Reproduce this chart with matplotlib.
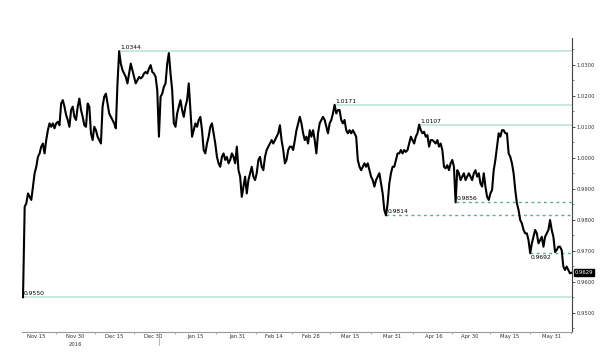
import pandas as pd
import numpy as np
import matplotlib
matplotlib.use("Agg")
import matplotlib.pyplot as plt
import matplotlib.dates as mdates
from matplotlib.ticker import MultipleLocator, FormatStrFormatter, FixedLocator

# USD/CHF, precios (muestreo aprox. cada 0.64 dias)
usdchf = [
    0.9550, 0.9842, 0.9853, 0.9885, 0.9874, 0.9864, 0.9907, 0.9950, 0.9971, 1.0003,
    1.0014, 1.0036, 1.0046, 1.0014, 1.0057, 1.0089, 1.0111, 1.0100, 1.0111, 1.0095,
    1.0111, 1.0116, 1.0105, 1.0175, 1.0186, 1.0165, 1.0138, 1.0122, 1.0100, 1.0154,
    1.0165, 1.0132, 1.0122, 1.0165, 1.0191, 1.0154, 1.0132, 1.0105, 1.0100, 1.0175,
    1.0165, 1.0079, 1.0057, 1.0100, 1.0089, 1.0068, 1.0057, 1.0046, 1.0165, 1.0197,
    1.0207, 1.0175, 1.0143, 1.0132, 1.0122, 1.0111, 1.0095, 1.0240, 1.0344, 1.0304,
    1.0283, 1.0272, 1.0261, 1.0240, 1.0272, 1.0304, 1.0283, 1.0261, 1.0240, 1.0250,
    1.0261, 1.0256, 1.0261, 1.0272, 1.0277, 1.0272, 1.0288, 1.0299, 1.0277, 1.0272,
    # diciembre - febrero
    1.0261, 1.0218, 1.0068, 1.0197, 1.0207, 1.0229, 1.0240, 1.0304, 1.0338, 1.0272,
    1.0218, 1.0111, 1.0100, 1.0143, 1.0165, 1.0186, 1.0154, 1.0132, 1.0165, 1.0186,
    1.0240, 1.0154, 1.0068, 1.0089, 1.0111, 1.0100, 1.0122, 1.0132, 1.0089, 1.0025,
    1.0014, 1.0046, 1.0068, 1.0100, 1.0111, 1.0079, 1.0046, 1.0003, 0.9982, 0.9971,
    1.0003, 1.0014, 0.9993, 1.0003, 0.9982, 0.9993, 1.0014, 1.0003, 0.9982, 1.0036,
    0.9960, 0.9939, 0.9874, 0.9907, 0.9939, 0.9885, 0.9928, 0.9950, 0.9971, 0.9939,
    0.9928, 0.9950, 0.9993, 1.0003, 0.9971, 0.9960, 1.0003, 1.0025, 1.0036, 1.0046,
    1.0057, 1.0046, 1.0057, 1.0068, 1.0079, 1.0105, 1.0057, 1.0025, 0.9982, 0.9993,
    1.0025, 1.0036, 1.0036,
    # febrero - abril
    1.0025, 1.0057, 1.0089, 1.0111, 1.0132, 1.0111, 1.0079, 1.0057, 1.0068, 1.0046,
    1.0089, 1.0068, 1.0089, 1.0057, 1.0014, 1.0079, 1.0111, 1.0122, 1.0132, 1.0122,
    1.0100, 1.0079, 1.0111, 1.0122, 1.0143, 1.0171, 1.0143, 1.0154, 1.0154, 1.0122,
    1.0111, 1.0122, 1.0089, 1.0079, 1.0089, 1.0079, 1.0089, 1.0079, 1.0068, 0.9993,
    0.9971, 0.9960, 0.9971, 0.9982, 0.9971, 0.9982, 0.9960, 0.9939, 0.9928, 0.9907,
    0.9928, 0.9939, 0.9950, 0.9917, 0.9885, 0.9831, 0.9814, 0.9853, 0.9917, 0.9950,
    0.9971, 0.9971, 0.9993, 1.0014, 1.0014, 1.0025, 1.0014, 1.0025, 1.0019, 1.0025,
    1.0046, 1.0068, 1.0057, 1.0046, 1.0068, 1.0079, 1.0107, 1.0089, 1.0079, 1.0084,
    1.0068, 1.0073, 1.0036,
    # abril - junio
    1.0057, 1.0057, 1.0052, 1.0046, 1.0057, 1.0036, 1.0046, 1.0025, 0.9971, 0.9966,
    0.9976, 0.9960, 0.9982, 0.9993, 0.9971, 0.9856, 0.9960, 0.9950, 0.9928, 0.9939,
    0.9950, 0.9928, 0.9939, 0.9950, 0.9939, 0.9928, 0.9950, 0.9960, 0.9939, 0.9950,
    0.9917, 0.9907, 0.9950, 0.9907, 0.9874, 0.9864, 0.9885, 0.9896, 0.9960, 0.9993,
    1.0036, 1.0079, 1.0068, 1.0089, 1.0089, 1.0079, 1.0079, 1.0014, 1.0003, 0.9982,
    0.9950, 0.9896, 0.9853, 0.9831, 0.9799, 0.9788, 0.9767, 0.9756, 0.9756, 0.9734,
    0.9692, 0.9724, 0.9745, 0.9767, 0.9756, 0.9724, 0.9734, 0.9745, 0.9713, 0.9745,
    0.9756, 0.9767, 0.9799, 0.9767, 0.9745, 0.9696, 0.9702, 0.9713, 0.9713, 0.9702,
    0.9649, 0.9638, 0.9649, 0.9638, 0.9627, 0.9629,
]

# niveles marcados: (valor, estilo)
niveles = [
    (1.0344, "solid"),
    (1.0171, "solid"),
    (1.0107, "solid"),
    (0.9856, "dotted"),
    (0.9814, "dotted"),
    (0.9692, "dotted"),
    (0.9550, "solid"),
]

etiquetas_x = ["Nov 15", "Nov 30", "Dec 15", "Dec 30", "Jan 15", "Jan 31", "Feb 14",
               "Feb 28", "Mar 15", "Mar 31", "Apr 16", "Apr 30", "May 15", "May 31"]
fechas_x = ["2016-11-15", "2016-11-30", "2016-12-15", "2016-12-30", "2017-01-15",
            "2017-01-31", "2017-02-14", "2017-02-28", "2017-03-15", "2017-03-31",
            "2017-04-16", "2017-04-30", "2017-05-15", "2017-05-31"]

tiempos = pd.date_range("2016-11-10 00:40", "2017-06-07 20:00", periods=len(usdchf))
serie = pd.Series(usdchf, index=tiempos)

fig = plt.figure(figsize=(6, 3.6), dpi=100)
ax = fig.add_axes([0.0367, 0.078, 0.9166, 0.816])

ax.plot(serie.index, serie.values, color="black", lw=1.5, zorder=3)

color_solido = "#bde4dc"
color_punteado = "#4fb08c"
fin = serie.index[-1] + pd.Timedelta(hours=6)
for valor, estilo in niveles:
    t0 = serie.index[usdchf.index(valor)]
    if estilo == "solid":
        ax.hlines(valor, t0, fin, color=color_solido, lw=1.2, zorder=1)
    else:
        ax.hlines(valor, t0, fin, color=color_punteado, lw=1.0,
                  linestyles=(0, (2, 2.5)), zorder=1)
    if valor == 0.9692:
        ax.annotate(f"{valor:.4f}", (t0, valor), xytext=(0, -1.2), textcoords="offset points",
                    fontsize=4.3, ha="left", va="top", zorder=4)
    elif valor == 0.9814:
        ax.annotate(f"{valor:.4f}", (t0, valor), xytext=(1.5, 0.8), textcoords="offset points",
                    fontsize=4.3, ha="left", va="bottom", zorder=4)
    else:
        ax.annotate(f"{valor:.4f}", (t0, valor), xytext=(0.5, 0.8), textcoords="offset points",
                    fontsize=4.3, ha="left", va="bottom", zorder=4)

# ultimo precio
ax.annotate(f"{usdchf[-1]:.4f}", xy=(1.0, usdchf[-1]), xycoords=("axes fraction", "data"),
            xytext=(2, 0), textcoords="offset points", fontsize=3.8, color="white",
            ha="left", va="center",
            bbox=dict(boxstyle="square,pad=0.15", fc="black", ec="black"))

ax.set_xlim(pd.Timestamp("2016-11-09 15:30"), pd.Timestamp("2017-06-07 23:20"))
ax.set_ylim(0.9438, 1.0386)

# eje y a la derecha
ax.yaxis.tick_right()
ax.yaxis.set_major_locator(MultipleLocator(0.01))
ax.yaxis.set_minor_locator(MultipleLocator(0.005))
ax.yaxis.set_major_formatter(FormatStrFormatter("%.4f"))
ax.tick_params(axis="y", which="major", length=2, width=0.6, pad=1, labelsize=3.8,
               colors="#333333")
ax.tick_params(axis="y", which="minor", length=1.2, width=0.5, colors="#555555")

# eje x con etiquetas de fecha
fx = pd.to_datetime(fechas_x)
ax.xaxis.set_major_locator(FixedLocator(mdates.date2num(fx)))
ax.set_xticklabels(etiquetas_x)
medios = mdates.date2num(fx[:-1]) + np.diff(mdates.date2num(fx)) / 2
ax.xaxis.set_minor_locator(FixedLocator(np.append(medios, mdates.date2num(fx[-1]) + 7.5)))
ax.tick_params(axis="x", which="major", length=0, pad=1.5, labelsize=3.8, colors="#333333")
ax.tick_params(axis="x", which="minor", length=1.5, width=0.5, colors="#888888")

ax.text(mdates.date2num(pd.Timestamp("2016-11-30")), -0.035, "2016", fontsize=3.8,
        color="#333333", ha="center", va="top", transform=ax.get_xaxis_transform())
ax.plot([pd.Timestamp("2017-01-01")] * 2, [0, -0.045], color="#aaaaaa", lw=0.6,
        transform=ax.get_xaxis_transform(), clip_on=False)

for lado in ["left", "top"]:
    ax.spines[lado].set_visible(False)
ax.spines["bottom"].set_color("#999999")
ax.spines["bottom"].set_linewidth(0.8)
ax.spines["right"].set_color("#444444")
ax.spines["right"].set_linewidth(0.8)

fig.savefig("out.png", dpi=100)
